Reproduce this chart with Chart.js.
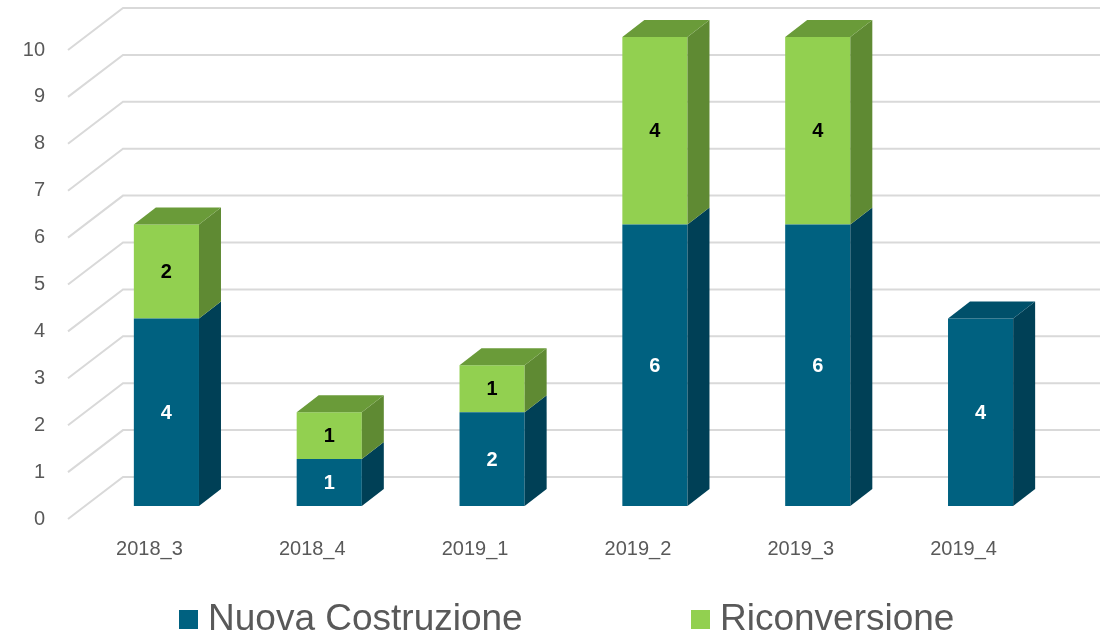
<!DOCTYPE html>
<html><head><meta charset="utf-8">
<script src="https://cdn.jsdelivr.net/npm/chart.js@4/dist/chart.umd.min.js"></script>
<style>html,body{margin:0;padding:0;background:#fff}#wrap{width:1106px;height:637px;position:relative}</style>
</head><body><div id="wrap"><canvas id="c" width="1106" height="637"></canvas></div>
<script>
const categories = ['2018_3', '2018_4', '2019_1', '2019_2', '2019_3', '2019_4'];
const nuovaCostruzione = [4, 1, 2, 6, 6, 4];
const riconversione = [2, 1, 1, 4, 4, null];
const seriesNames = ['Nuova Costruzione', 'Riconversione'];
const yMin = 0, yMax = 10, yStep = 1;

const FRONT = ['rgb(0,97,128)', 'rgb(146,208,80)'];
const SIDE = ['rgb(0,64,86)', 'rgb(95,138,51)'];
const TOP = ['rgb(0,80,106)', 'rgb(106,155,57)'];
const LABEL_COLORS = ['#ffffff', '#000000'];
const DEPTH = {dx: 22, dy: 17};
const FRONT_OFF = {dx: 17, dy: 13};
const BACK_OFF = {dx: 38, dy: 29};
const TEXT = '#595959';
const FONT = '"Liberation Sans", Arial, sans-serif';

const gridPlugin = {
  id: 'grid3d',
  beforeDatasetsDraw(chart) {
    const ctx = chart.ctx, y = chart.scales.y, area = chart.chartArea;
    ctx.save();
    ctx.strokeStyle = '#d9d9d9';
    ctx.lineWidth = 2;
    for (let v = yMin; v <= yMax; v += yStep) {
      const py = y.getPixelForValue(v);
      ctx.beginPath();
      ctx.moveTo(area.left - FRONT_OFF.dx, py + FRONT_OFF.dy);
      ctx.lineTo(area.left + BACK_OFF.dx, py - BACK_OFF.dy);
      ctx.lineTo(area.right + BACK_OFF.dx, py - BACK_OFF.dy);
      ctx.stroke();
    }
    ctx.restore();
  }
};

const bar3dPlugin = {
  id: 'bar3d',
  afterDatasetsDraw(chart) {
    const ctx = chart.ctx;
    const metas = chart.data.datasets.map((d, i) => chart.getDatasetMeta(i));
    ctx.save();
    categories.forEach((c, idx) => {
      let topDs = -1;
      chart.data.datasets.forEach((d, di) => { if (d.data[idx] != null && d.data[idx] > 0) topDs = di; });
      chart.data.datasets.forEach((d, di) => {
        const v = d.data[idx];
        if (v == null || v <= 0) return;
        const el = metas[di].data[idx];
        const p = el.getProps(['x', 'y', 'base', 'width'], true);
        const l = p.x - p.width / 2, r = p.x + p.width / 2, t = Math.min(p.y, p.base), b = Math.max(p.y, p.base);
        ctx.fillStyle = SIDE[di];
        ctx.beginPath();
        ctx.moveTo(r, b); ctx.lineTo(r + DEPTH.dx, b - DEPTH.dy);
        ctx.lineTo(r + DEPTH.dx, t - DEPTH.dy); ctx.lineTo(r, t); ctx.closePath(); ctx.fill();
        if (di === topDs) {
          ctx.fillStyle = TOP[di];
          ctx.beginPath();
          ctx.moveTo(l, t); ctx.lineTo(l + DEPTH.dx, t - DEPTH.dy);
          ctx.lineTo(r + DEPTH.dx, t - DEPTH.dy); ctx.lineTo(r, t); ctx.closePath(); ctx.fill();
        }
        ctx.fillStyle = LABEL_COLORS[di];
        ctx.font = 'bold 20px ' + FONT;
        ctx.textAlign = 'center';
        ctx.textBaseline = 'middle';
        ctx.fillText(String(v), p.x, (t + b) / 2 + 1);
      });
    });
    ctx.restore();
  }
};

const legendPlugin = {
  id: 'customLegend',
  afterDraw(chart) {
    const ctx = chart.ctx;
    const xs = [179, 691];
    ctx.save();
    chart.data.datasets.forEach((d, i) => {
      ctx.fillStyle = FRONT[i];
      ctx.fillRect(xs[i], 610, 19, 19);
      ctx.fillStyle = TEXT;
      ctx.font = '37px ' + FONT;
      ctx.textAlign = 'left';
      ctx.textBaseline = 'middle';
      ctx.fillText(d.label, xs[i] + 29, 620);
    });
    ctx.restore();
  }
};

new Chart(document.getElementById('c'), {
  type: 'bar',
  data: {
    labels: categories,
    datasets: [
      {label: seriesNames[0], data: nuovaCostruzione, backgroundColor: FRONT[0], borderWidth: 0},
      {label: seriesNames[1], data: riconversione, backgroundColor: FRONT[1], borderWidth: 0}
    ]
  },
  options: {
    responsive: false,
    animation: false,
    devicePixelRatio: 1,
    layout: {padding: {top: 37, right: 44, bottom: 60, left: 0}},
    datasets: {bar: {categoryPercentage: 1, barPercentage: 0.4}},
    plugins: {legend: {display: false}, tooltip: {enabled: false}},
    scales: {
      x: {
        stacked: true,
        grid: {display: false, drawTicks: false},
        border: {display: false},
        ticks: {color: TEXT, font: {size: 20, family: FONT}, padding: 31, labelOffset: -17, maxRotation: 0},
        afterFit(s) { s.height = 71; s.paddingLeft = 0; s.paddingRight = 0; }
      },
      y: {
        stacked: true,
        min: yMin, max: yMax,
        grid: {display: false, drawTicks: false},
        border: {display: false},
        ticks: {stepSize: yStep, color: TEXT, font: {size: 20, family: FONT}, padding: 40, labelOffset: 13},
        afterFit(s) { s.width = 85; s.paddingTop = 0; s.paddingBottom = 0; }
      }
    }
  },
  plugins: [gridPlugin, bar3dPlugin, legendPlugin]
});
</script></body></html>
